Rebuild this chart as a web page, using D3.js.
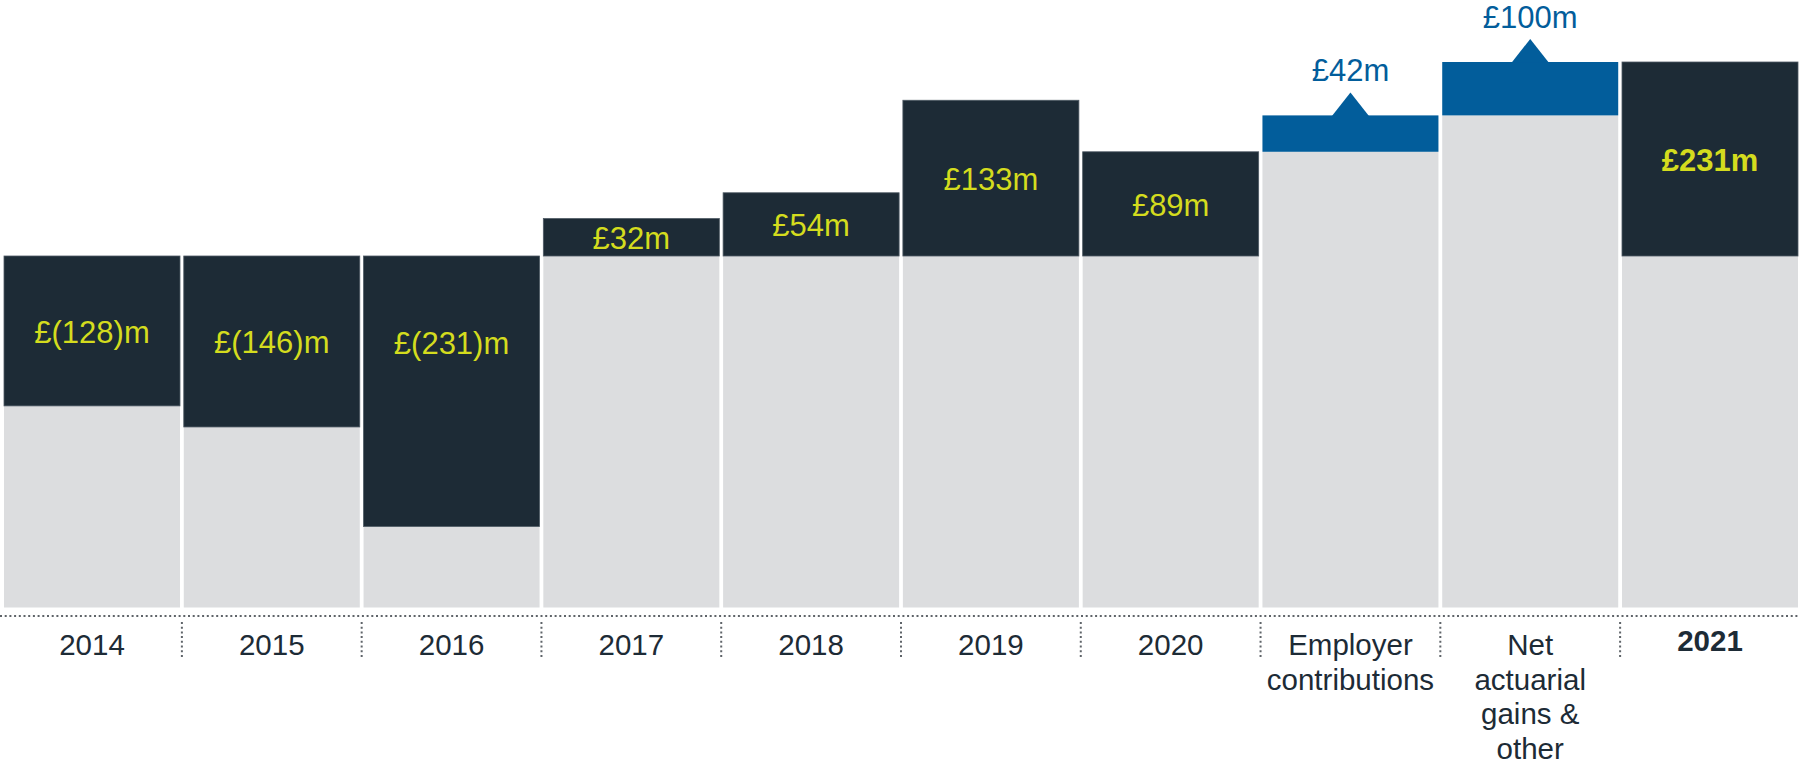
<!DOCTYPE html>
<html>
<head>
<meta charset="utf-8">
<style>
  body { margin: 0; background: #ffffff; }
  svg { display: block; font-family: "Liberation Sans", Arial, Helvetica, sans-serif; }
</style>
<script src="https://cdn.jsdelivr.net/npm/d3@7"></script>
</head>
<body>
<svg id="chart"></svg>
<script>
// pension surplus / (deficit), £m
const categories = ["2014", "2015", "2016", "2017", "2018", "2019", "2020",
                    "Employer contributions", "Net actuarial gains & other", "2021"];
const tickLines = [["2014"], ["2015"], ["2016"], ["2017"], ["2018"], ["2019"], ["2020"],
                   ["Employer", "contributions"], ["Net", "actuarial", "gains &", "other"], ["2021"]];
const yearValues = [-128, -146, -231, 32, 54, 133, 89];
const bridgeMoves = [42, 100];
const closingValue = 231;

const width = 1799, height = 766;
const zeroY = 256, baseY = 607.5, topY = 62, pxPerM = 1.171;

const navy = "#1d2b36", grey = "#dcdddf", blue = "#025d9b", lime = "#d4dc1e", dots = "#5f6469";

const svg = d3.select("#chart").attr("width", width).attr("height", height);

const x = d3.scaleBand().domain(categories).range([4, 1798]).paddingInner(0.021);
const y = d3.scaleLinear().domain([0, 100]).range([zeroY, zeroY - 100 * pxPerM]);

// the 2020 -> 2021 bridge is drawn compressed, on its own scale
const opening = yearValues[yearValues.length - 1];
const yb = d3.scaleLog().domain([opening, closingValue]).range([y(opening), topY]);

const fmt = v => v < 0 ? "£(" + (-v) + ")m" : "£" + v + "m";

// yearly bars
const years = yearValues.map((v, i) => ({ cat: categories[i], v }));
const g = svg.append("g");

g.selectAll(".bg").data(years).enter().append("rect")
  .attr("x", d => x(d.cat)).attr("width", x.bandwidth())
  .attr("y", y(0)).attr("height", baseY - y(0))
  .attr("fill", grey);

g.selectAll(".val").data(years).enter().append("rect")
  .attr("x", d => x(d.cat)).attr("width", x.bandwidth())
  .attr("y", d => Math.min(y(0), y(d.v)))
  .attr("height", d => Math.abs(y(d.v) - y(0)))
  .attr("fill", navy).attr("stroke", "#4f5b65").attr("stroke-width", 0.8);

g.selectAll(".lbl").data(years).enter().append("text")
  .attr("x", d => x(d.cat) + x.bandwidth() / 2)
  .attr("y", d => Math.min((y(0) + y(d.v)) / 2, y(0) + 86) + 12)
  .attr("text-anchor", "middle")
  .attr("font-size", 31).attr("fill", lime)
  .text(d => fmt(d.v));

// bridge steps
let level = opening;
const steps = bridgeMoves.map((m, i) => {
  const s = { cat: categories[7 + i], from: level, to: level + m, v: m };
  level += m;
  return s;
});

g.selectAll(".stepbg").data(steps).enter().append("rect")
  .attr("x", d => x(d.cat)).attr("width", x.bandwidth())
  .attr("y", d => yb(d.from)).attr("height", d => baseY - yb(d.from))
  .attr("fill", grey);

g.selectAll(".step").data(steps).enter().append("rect")
  .attr("x", d => x(d.cat)).attr("width", x.bandwidth())
  .attr("y", d => yb(d.to)).attr("height", d => yb(d.from) - yb(d.to))
  .attr("fill", blue);

g.selectAll(".arrow").data(steps).enter().append("path")
  .attr("d", d => {
    const cx = x(d.cat) + x.bandwidth() / 2, t = yb(d.to);
    return "M" + (cx - 18.5) + "," + (t + 0.5) + "L" + cx + "," + (t - 23) + "L" + (cx + 18.5) + "," + (t + 0.5) + "Z";
  })
  .attr("fill", blue);

g.selectAll(".steplbl").data(steps).enter().append("text")
  .attr("x", d => x(d.cat) + x.bandwidth() / 2)
  .attr("y", d => yb(d.to) - 34)
  .attr("text-anchor", "middle")
  .attr("font-size", 31).attr("fill", blue)
  .text(d => fmt(d.v));

// closing 2021 bar
const last = categories[categories.length - 1];
g.append("rect").attr("x", x(last)).attr("width", x.bandwidth())
  .attr("y", y(0)).attr("height", baseY - y(0)).attr("fill", grey);
g.append("rect").attr("x", x(last)).attr("width", x.bandwidth())
  .attr("y", yb(closingValue)).attr("height", y(0) - yb(closingValue))
  .attr("fill", navy).attr("stroke", "#4f5b65").attr("stroke-width", 0.8);
g.append("text")
  .attr("x", x(last) + x.bandwidth() / 2)
  .attr("y", (y(0) + yb(closingValue)) / 2 + 12)
  .attr("text-anchor", "middle").attr("font-size", 31).attr("font-weight", "bold")
  .attr("fill", lime).text(fmt(closingValue));

// dotted axis line and separators
svg.append("line").attr("x1", 0).attr("x2", width).attr("y1", 616).attr("y2", 616)
  .attr("stroke", dots).attr("stroke-width", 2).attr("stroke-dasharray", "2,2.7");

const gap = x.step() - x.bandwidth();
svg.selectAll(".sep").data(categories.slice(1)).enter().append("line")
  .attr("x1", d => x(d) - gap / 2).attr("x2", d => x(d) - gap / 2)
  .attr("y1", 622).attr("y2", 658)
  .attr("stroke", dots).attr("stroke-width", 2).attr("stroke-dasharray", "2,2.7");

// category labels
const ticks = svg.selectAll(".tick").data(categories).enter().append("text")
  .attr("x", d => x(d) + x.bandwidth() / 2)
  .attr("y", d => d === last ? 651 : 655)
  .attr("text-anchor", "middle")
  .attr("font-size", 29.5).attr("fill", navy)
  .attr("font-weight", d => d === last ? "bold" : "normal");

ticks.each(function (d, i) {
  const t = d3.select(this);
  tickLines[i].forEach((line, j) => {
    t.append("tspan").attr("x", x(d) + x.bandwidth() / 2).attr("dy", j === 0 ? 0 : 34.6).text(line);
  });
});
</script>
</body>
</html>
